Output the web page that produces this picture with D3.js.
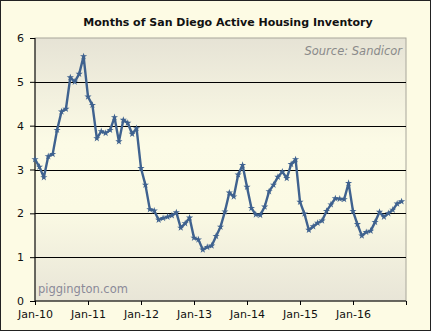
<!DOCTYPE html>
<html>
  <head>
    <meta charset="UTF-8" />
    <title>Months of San Diego Active Housing Inventory</title>
    <style>
      html, body { margin: 0; padding: 0; background: #fdfbe4; }
      svg { display: block; font-family: "DejaVu Sans", Verdana, sans-serif; }
    </style>
  </head>
  <body>
    <svg></svg>
    <script src="https://d3js.org/d3.v7.min.js"></script>
    <script>
      // months of inventory, one value per month starting Jan 2010
      const inventory = [
        3.23, 3.06, 2.82, 3.30, 3.35, 3.90, 4.32, 4.38, 5.10, 5.00, 5.18, 5.58,
        4.66, 4.47, 3.71, 3.87, 3.83, 3.90, 4.19, 3.64, 4.13, 4.06, 3.81, 3.94,
        3.03, 2.65, 2.09, 2.06, 1.85, 1.89, 1.92, 1.95, 2.02, 1.67, 1.77, 1.90,
        1.44, 1.40, 1.17, 1.23, 1.26, 1.48, 1.69, 2.04, 2.47, 2.38, 2.88, 3.10,
        2.60, 2.12, 1.97, 1.96, 2.15, 2.50, 2.65, 2.83, 2.95, 2.80, 3.12, 3.23,
        2.26, 1.99, 1.62, 1.70, 1.78, 1.83, 2.05, 2.20, 2.34, 2.33, 2.32, 2.69,
        2.05, 1.75, 1.49, 1.57, 1.60, 1.80, 2.03, 1.92, 2.00, 2.08, 2.22, 2.27
      ];
      const xTickLabels = ["Jan-10", "Jan-11", "Jan-12", "Jan-13", "Jan-14", "Jan-15", "Jan-16"];
      const yTicks = [0, 1, 2, 3, 4, 5, 6];

      const W = 431, H = 331;
      const margin = { top: 38, right: 25, bottom: 30, left: 35 };
      const svg = d3.select("svg").attr("width", W).attr("height", H);

      // outer frame
      svg.append("rect")
        .attr("x", 0.5).attr("y", 0.5)
        .attr("width", W - 1).attr("height", H - 1)
        .attr("fill", "#fdfbe4")
        .attr("stroke", "#222");

      const x = d3.scaleLinear()
        .domain([0, 84])
        .range([margin.left, W - margin.right]);
      const y = d3.scaleLinear()
        .domain([0, 6])
        .range([H - margin.bottom, margin.top]);

      // plot background fades grey -> cream -> grey
      const grad = svg.append("defs").append("linearGradient")
        .attr("id", "plotbg").attr("x1", 0).attr("y1", 0).attr("x2", 0).attr("y2", 1);
      grad.append("stop").attr("offset", "0%").attr("stop-color", "#e6e3d5");
      grad.append("stop").attr("offset", "40%").attr("stop-color", "#fcfbe6");
      grad.append("stop").attr("offset", "65%").attr("stop-color", "#fbfae4");
      grad.append("stop").attr("offset", "100%").attr("stop-color", "#e8e5d7");

      svg.append("rect")
        .attr("x", x(0)).attr("y", y(6))
        .attr("width", x(84) - x(0)).attr("height", y(0) - y(6))
        .attr("fill", "url(#plotbg)")
        .attr("stroke", "#a8a69a");

      // horizontal gridlines
      svg.append("g")
        .selectAll("line")
        .data(yTicks.filter(d => d > 0 && d < 6))
        .join("line")
        .attr("x1", x(0)).attr("x2", x(84))
        .attr("y1", d => Math.round(y(d)) + 0.5).attr("y2", d => Math.round(y(d)) + 0.5)
        .attr("stroke", "#000").attr("stroke-width", 1.2);

      // axes
      const yAxis = svg.append("g")
        .attr("transform", `translate(${x(0)},0)`)
        .call(d3.axisLeft(y).tickValues(yTicks).tickFormat(d3.format("d"))
          .tickSize(5).tickPadding(6));
      const xAxis = svg.append("g")
        .attr("transform", `translate(0,${y(0)})`)
        .call(d3.axisBottom(x)
          .tickValues(d3.range(0, 85, 12))
          .tickSize(4).tickPadding(5)
          .tickFormat((d, i) => xTickLabels[i] || ""));
      [yAxis, xAxis].forEach(a => {
        a.selectAll("text").attr("fill", "#111").style("font-size", "11px")
          .style("font-family", "'DejaVu Sans', Verdana, sans-serif");
        a.selectAll("line, path").attr("stroke", "#000");
      });
      yAxis.select(".domain").attr("d", `M0,${y(6)}V${y(0)}`);
      xAxis.select(".domain").attr("d", `M${x(0)},0H${x(84)}`);

      // series line
      const line = d3.line()
        .x((d, i) => x(i))
        .y(d => y(d));
      svg.append("path")
        .datum(inventory)
        .attr("fill", "none")
        .attr("stroke", "#3f628f")
        .attr("stroke-width", 2.4)
        .attr("stroke-linejoin", "round")
        .attr("d", line);

      svg.append("g")
        .selectAll("path")
        .data(inventory)
        .join("path")
        .attr("transform", (d, i) => `translate(${x(i)},${y(d)})`)
        .attr("d", d3.symbol(d3.symbolStar, 16))
        .attr("fill", "#3f628f");

      // text
      svg.append("text")
        .attr("x", 228).attr("y", 26)
        .attr("text-anchor", "middle")
        .style("font-weight", "bold").style("font-size", "11px")
        .attr("fill", "#111")
        .text("Months of San Diego Active Housing Inventory");

      svg.append("text")
        .attr("x", x(84) - 4).attr("y", 55)
        .attr("text-anchor", "end")
        .style("font-style", "italic").style("font-size", "11.5px")
        .attr("fill", "#8a8a8a")
        .text("Source: Sandicor");

      svg.append("text")
        .attr("x", 38).attr("y", 293)
        .style("font-size", "11.5px")
        .attr("fill", "#8a8a98")
        .text("piggington.com");
    </script>
  </body>
</html>
